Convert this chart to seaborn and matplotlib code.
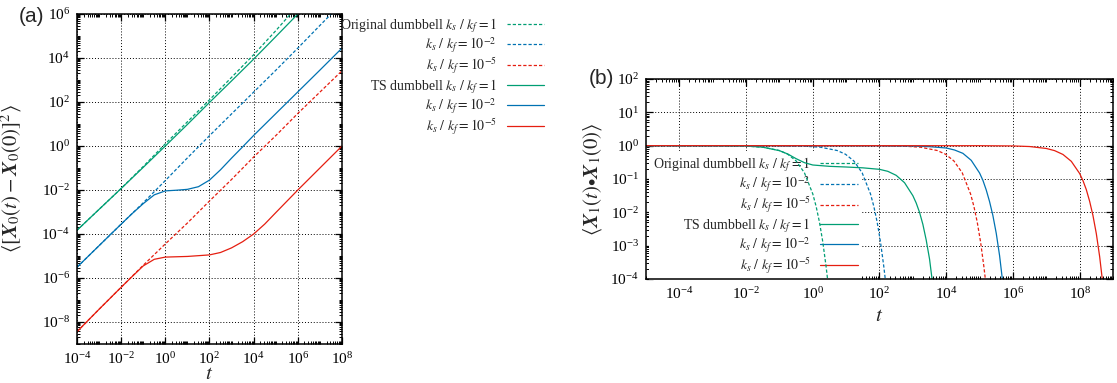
import numpy as np
import pandas as pd
import matplotlib
matplotlib.use("Agg")
import matplotlib.pyplot as plt
import seaborn as sns
from matplotlib.ticker import LogLocator, LogFormatterMathtext, NullFormatter, FixedLocator

# ---------------- data (log10 values) ----------------
# Panel (a): mean square displacement
a_orig1_t = [-4, -3, -2, -1, 0, 1, 2, 3, 4, 5, 6]
a_orig1_v = [-3.83, -2.88, -1.93, -0.93, 0.10, 1.10, 2.10, 3.12, 4.15, 5.24, 6.38]
a_orig2_t = [-4, -3, -2, -1, 0, 1, 2, 3, 4, 5, 6, 7, 8]
a_orig2_v = [-5.51, -4.53, -3.55, -2.58, -1.57, -0.54, 0.47, 1.46, 2.45, 3.44, 4.45, 5.48, 6.5]
a_orig5_t = [-4, -3, -2, -1, 0, 1, 2, 3, 4, 5, 6, 7, 8]
a_orig5_v = [-8.44, -7.42, -6.42, -5.42, -4.45, -3.5, -2.5, -1.52, -0.5, 0.47, 1.48, 2.45, 3.42]
a_ts1_t = [-4, -3, -2, -1, 0, 1, 2, 3, 4, 5, 6, 7]
a_ts1_v = [-3.83, -2.88, -1.93, -0.97, 0.0, 0.98, 1.98, 2.96, 3.95, 4.97, 6.0, 7.02]
a_ts2_t = [-4, -3, -2, -1.5, -1, -0.5, 0, 0.5, 1, 1.5, 2, 2.5, 3, 3.5, 4, 5, 6, 7, 8]
a_ts2_v = [-5.51, -4.53, -3.55, -3.07, -2.62, -2.22, -2.04, -2.01, -1.97, -1.85, -1.55,
           -1.08, -0.55, -0.04, 0.48, 1.47, 2.46, 3.45, 4.45]
a_ts5_t = [-4, -3, -2, -1.5, -1, -0.5, 0, 1, 2, 2.5, 3, 3.5, 4, 4.5, 5, 6, 7, 8]
a_ts5_v = [-8.44, -7.42, -6.42, -5.93, -5.45, -5.15, -5.05, -5.02, -4.95, -4.84, -4.63,
           -4.35, -4.0, -3.55, -3.03, -2.0, -1.0, 0.0]

# Panel (b): end-to-end vector autocorrelation
b_orig1_t = [-5, -3, -2, -1.5, -1, -0.75, -0.5, -0.25, 0, 0.1, 0.2, 0.3, 0.4, 0.46]
b_orig1_v = [0, -0.0015, -0.0145, -0.046, -0.145, -0.257, -0.458, -0.814, -1.448,
             -1.822, -2.294, -2.888, -3.636, -4.15]
b_orig2_t = [-5, -1.27, -0.27, 0.23, 0.73, 0.98, 1.23, 1.48, 1.73, 1.83, 1.93, 2.03, 2.13, 2.19]
b_orig2_v = [0, -0.0015, -0.0145, -0.046, -0.145, -0.257, -0.458, -0.814, -1.448,
             -1.822, -2.294, -2.888, -3.636, -4.15]
b_orig5_t = [-5, 1.73, 2.73, 3.23, 3.73, 3.98, 4.23, 4.48, 4.73, 4.83, 4.93, 5.03, 5.13, 5.19]
b_orig5_v = [0, -0.0015, -0.0145, -0.046, -0.145, -0.257, -0.458, -0.814, -1.448,
             -1.822, -2.294, -2.888, -3.636, -4.15]
b_ts1_t = [-5, -3, -2, -1.5, -1, -0.75, -0.5, -0.25, 0, 0.5, 1, 1.5, 2, 2.25, 2.5, 2.75,
           3.0, 3.1, 3.2, 3.3, 3.4, 3.5, 3.6]
b_ts1_v = [0, -0.001, -0.01, -0.045, -0.15, -0.25, -0.39, -0.51, -0.58, -0.62, -0.64,
           -0.665, -0.71, -0.77, -0.89, -1.11, -1.5, -1.72, -2.0, -2.36, -2.83, -3.4, -4.2]
b_ts2_t = [-5, 2, 3, 3.5, 4.0, 4.25, 4.5, 4.75, 5.0, 5.1, 5.2, 5.3, 5.4, 5.5, 5.6, 5.7]
b_ts2_v = [0, -0.004, -0.012, -0.03, -0.07, -0.13, -0.23, -0.44, -0.82, -1.04, -1.33,
           -1.68, -2.1, -2.63, -3.3, -4.15]
b_ts5_t = [-5, 5, 6, 6.5, 7.0, 7.25, 7.5, 7.75, 8.0, 8.1, 8.2, 8.3, 8.4, 8.5, 8.6, 8.7]
b_ts5_v = [0, -0.001, -0.008, -0.026, -0.084, -0.149, -0.264, -0.47, -0.835, -1.05,
           -1.32, -1.67, -2.1, -2.64, -3.33, -4.19]

labels = [r"Original dumbbell $k_s\ /\ k_f = 1$",
          r"$k_s\ /\ k_f = 10^{-2}$",
          r"$k_s\ /\ k_f = 10^{-5}$",
          r"TS dumbbell $k_s\ /\ k_f = 1$",
          r"$k_s\ /\ k_f = 10^{-2}$",
          r"$k_s\ /\ k_f = 10^{-5}$"]

GREEN, BLUE, RED = "#009e73", "#0072b2", "#e51e10"
colors = [GREEN, BLUE, RED, GREEN, BLUE, RED]
dashed = [True, True, True, False, False, False]

series_a = [(a_orig1_t, a_orig1_v), (a_orig2_t, a_orig2_v), (a_orig5_t, a_orig5_v),
            (a_ts1_t, a_ts1_v), (a_ts2_t, a_ts2_v), (a_ts5_t, a_ts5_v)]
series_b = [(b_orig1_t, b_orig1_v), (b_orig2_t, b_orig2_v), (b_orig5_t, b_orig5_v),
            (b_ts1_t, b_ts1_v), (b_ts2_t, b_ts2_v), (b_ts5_t, b_ts5_v)]

# ---------------- style ----------------
sns.set_theme(style="ticks")
plt.rcParams["font.family"] = ["Liberation Serif", "DejaVu Serif"]
plt.rcParams["mathtext.fontset"] = "stix"
plt.rcParams["axes.linewidth"] = 1.1
plt.rcParams["axes.edgecolor"] = "black"

W, H = 1117, 383
fig = plt.figure(figsize=(W / 100, H / 100), dpi=100)
axa = fig.add_axes([77 / W, 1 - 344 / H, 265 / W, 330 / H])
axb = fig.add_axes([646 / W, 1 - 279 / H, 467 / W, 200 / H])

LW = 0.9


def draw(ax, series):
    handles = []
    for (t, v), c, d, lab in zip(series, colors, dashed, labels):
        df = pd.DataFrame({"t": 10.0 ** np.array(t), "v": 10.0 ** np.array(v)})
        sns.lineplot(data=df, x="t", y="v", ax=ax, color=c, lw=LW, sort=False,
                     estimator=None, legend=False)
        ln = ax.get_lines()[-1]
        if d:
            ln.set_dashes((2.6, 1.6))
        ln.set_label(lab)
        handles.append(ln)
    return handles


for ax in (axa, axb):
    ax.set_xscale("log")
    ax.set_yscale("log")

ha = draw(axa, series_a)
hb = draw(axb, series_b)


def style_axis(ax, xmaj, ymaj, xlim, ylim, xlabelpad):
    ax.set_xlim(*xlim)
    ax.set_ylim(*ylim)
    ax.xaxis.set_major_locator(FixedLocator(xmaj))
    ax.yaxis.set_major_locator(FixedLocator(ymaj))
    ax.xaxis.set_major_formatter(LogFormatterMathtext())
    ax.yaxis.set_major_formatter(LogFormatterMathtext())
    ax.xaxis.set_minor_locator(LogLocator(base=10, subs=np.arange(1, 10), numticks=100))
    ax.yaxis.set_minor_locator(LogLocator(base=10, subs=np.arange(1, 10), numticks=100))
    ax.xaxis.set_minor_formatter(NullFormatter())
    ax.yaxis.set_minor_formatter(NullFormatter())
    ax.tick_params(which="both", direction="in", top=True, right=True, colors="black",
                   labelsize=11, pad=5)
    ax.tick_params(which="major", length=5, width=0.9)
    ax.tick_params(which="minor", length=2.5, width=0.7)
    ax.set_axisbelow(True)
    ax.grid(True, which="major", color="black", linestyle=(0, (1, 2)), linewidth=0.7)
    ax.grid(False, which="minor")
    for s in ax.spines.values():
        s.set_color("black")
        s.set_linewidth(1.1)
    ax.set_xlabel(r"$t$", fontsize=15, labelpad=xlabelpad)


style_axis(axa, [1e-4, 1e-2, 1e0, 1e2, 1e4, 1e6, 1e8],
           [1e-8, 1e-6, 1e-4, 1e-2, 1e0, 1e2, 1e4, 1e6], (1e-4, 1e8), (1e-9, 1e6), -1.5)
style_axis(axb, [1e-4, 1e-2, 1e0, 1e2, 1e4, 1e6, 1e8],
           [1e-4, 1e-3, 1e-2, 1e-1, 1e0, 1e1, 1e2], (1e-5, 1e9), (1e-4, 1e2), 4)

axa.set_ylabel(r"$\langle[\mathbfit{X}_0(t) - \mathbfit{X}_0(0)]^2\rangle$", fontsize=15)
axa.yaxis.set_label_coords(-0.2, 0.5)
axb.set_ylabel(r"$\langle\mathbfit{X}_1(t){\bullet}\mathbfit{X}_1(0)\rangle$", fontsize=15)
axb.yaxis.set_label_coords(-0.09, 0.5)

leg_kw = dict(frameon=False, markerfirst=False, borderpad=0, borderaxespad=0,
              handlelength=2.7, handletextpad=0.7, labelspacing=0.06, fontsize=10)
la = axa.legend(handles=ha, labels=labels, loc="upper right",
                bbox_to_anchor=(544 / W, 1 - 16 / H), bbox_transform=fig.transFigure, **leg_kw)

leg_kw_b = dict(leg_kw)
leg_kw_b.update(frameon=True, borderpad=0.3)
lb = axb.legend(handles=hb, labels=labels, loc="upper right",
                bbox_to_anchor=(862 / W, 1 - 151 / H), bbox_transform=fig.transFigure,
                **leg_kw_b)
fr = lb.get_frame()
fr.set_facecolor("white")
fr.set_edgecolor("none")
fr.set_alpha(1)
fr.set_boxstyle("square", pad=0)
lb.set_zorder(1.5)

fig.text(32 / W, 1 - 16 / H, "(a)", ha="center", va="center", fontsize=15,
         family=["Liberation Sans", "DejaVu Sans"])
fig.text(601 / W, 1 - 79 / H, "(b)", ha="center", va="center", fontsize=15,
         family=["Liberation Sans", "DejaVu Sans"])

fig.savefig("out.png", dpi=100)
